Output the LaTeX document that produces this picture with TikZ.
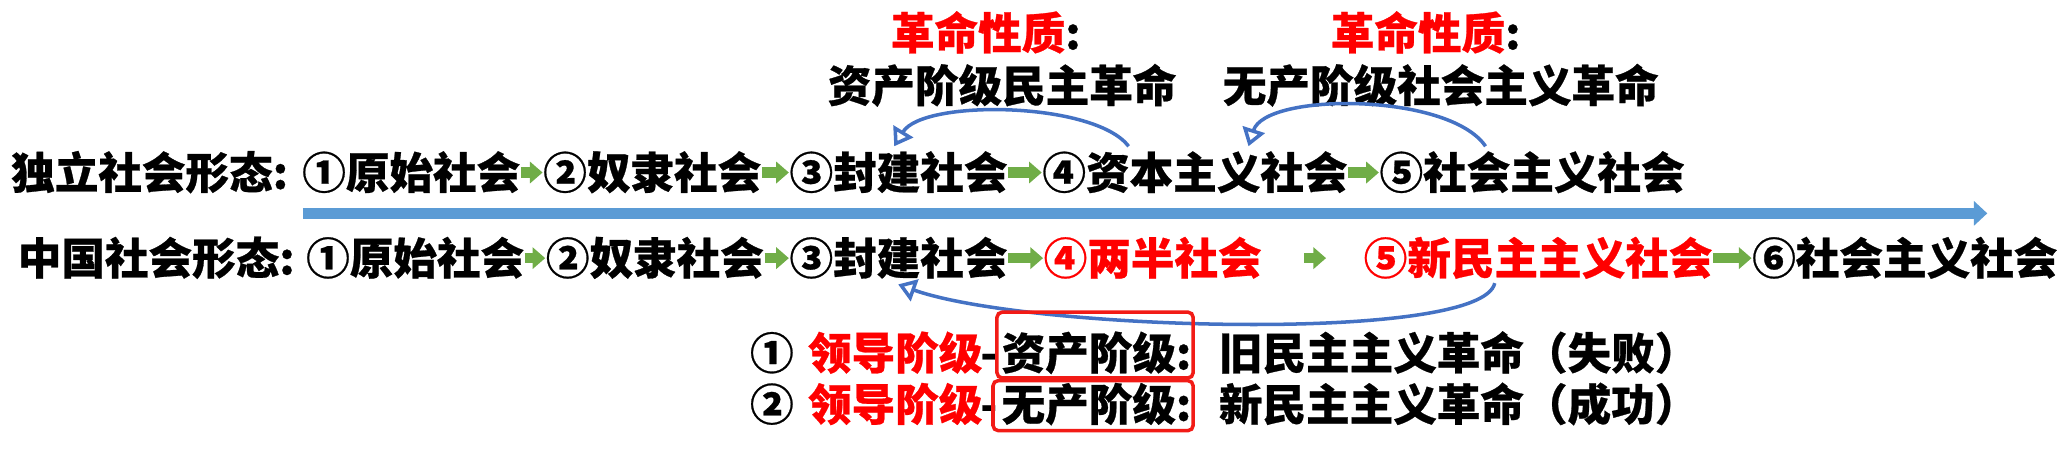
\documentclass[tikz,border=0pt]{standalone}
\usepackage{fontspec}
\setmainfont{Noto Sans CJK SC}[BoldFeatures={FakeBold=0.6}]
\usepackage{tikz}
\usepackage{xcolor}
\usetikzlibrary{positioning, arrows.meta, calc}
\definecolor{arrowgreen}{HTML}{70AD47}
\definecolor{lineblue}{HTML}{5B9BD5}
\definecolor{curveblue}{HTML}{4472C4}
\definecolor{boxred}{HTML}{F21B16}
\tikzset{
    txt/.style={anchor=west, inner sep=0pt, text height=10.8pt, text depth=1.5pt, font=\bfseries\fontsize{12.4pt}{14pt}\selectfont},
    redtxt/.style={txt, text=red},
    garrow/.style={-{Triangle[length=3.6pt, width=6pt]}, line width=3pt, draw=arrowgreen},
    revarrow/.style={draw=curveblue, line width=1pt, -{Triangle[open, length=5pt, width=6.5pt]}},
    classbox/.style={draw=boxred, line width=1pt, rounded corners=1.5pt}
}

\begin{document}
\begin{tikzpicture}[
    x=0.01317cm, y=-0.01317cm,
    timeline/.style={-{Triangle[length=3.8pt, width=6.8pt]}, line width=3pt, draw=lineblue}
]
\useasboundingbox (0,0) rectangle (1568,351);

% --- Revolution labels (top) ---
\node[txt] (t1) at (676,25) {\textcolor{red}{革命性质}:};
\node[txt] (s1) at (628,65) {资产阶级民主革命};
\node[txt] (t2) at (1010,25) {\textcolor{red}{革命性质}:};
\node[txt] (s2) at (928,65) {无产阶级社会主义革命};

% --- Row 1: independent forms ---
\node[txt] (lab1) at (8,131) {独立社会形态:};
\node[txt] (i1) at (229,131) {①原始社会};
\node[txt] (i2) at (412,131) {②奴隶社会};
\node[txt] (i3) at (599,131) {③封建社会};
\node[txt] (i4) at (791,131) {④资本主义社会};
\node[txt] (i5) at (1047,131) {⑤社会主义社会};

% --- Timeline ---
\coordinate (tl0) at (230,162);
\coordinate (tl1) at (1509,162);
\draw[timeline] (tl0) -- (tl1);

% --- Row 2: China ---
\node[txt] (lab2) at (13,196) {中国社会形态:};
\node[txt] (j1) at (232,196) {①原始社会};
\node[txt] (j2) at (414,196) {②奴隶社会};
\node[txt] (j3) at (599,196) {③封建社会};
\node[redtxt] (j4) at (792,196) {④两半社会};
\node[redtxt] (j5) at (1035,196) {⑤新民主主义社会};
\node[txt] (j6) at (1330,196) {⑥社会主义社会};

% --- Green step arrows ---
\draw[garrow] (i1) -- (i2);
\draw[garrow] (i2) -- (i3);
\draw[garrow] (i3) -- (i4);
\draw[garrow] (i4) -- (i5);
\draw[garrow] (j1) -- (j2);
\draw[garrow] (j2) -- (j3);
\draw[garrow] (j3) -- (j4);
\draw[garrow, shorten <=0.42cm, shorten >=0.37cm] (j4) -- (j5);
\draw[garrow] (j5) -- (j6);

% --- Curved arrows back to feudal society ---
\draw[revarrow] ($(i4.north west)+(66,-3)$) .. controls ($(i4.north west)+(40,-37)$) and ($(i3.north west)+(102,-39)$) .. ($(i3.north west)+(80,-3)$);
\draw[revarrow] ($(i5.north west)+(81,-3)$) .. controls ($(i5.north west)+(53,-44)$) and ($(i4.north west)+(170,-44)$) .. ($(i4.north west)+(157,-3)$);
\draw[revarrow] ($(j5.south west)+(100,2)$) .. controls ($(j5.south west)+(90,48)$) and ($(j3.south west)+(181,38)$) .. ($(j3.south west)+(83,3)$);

% --- Leading classes ---
\node[txt] (c1) at (569,268) {①};
\node[redtxt] (lead1) at (613,268) {领导阶级};
\node[txt] (dash1) at (744,268) {-};
\node[txt] (cls1) at (760,268) {资产阶级:};
\node[txt] (res1) at (925,268) {旧民主主义革命（失败）};

\node[txt] (c2) at (569,307) {②};
\node[redtxt] (lead2) at (613,307) {领导阶级};
\node[txt] (dash2) at (744,307) {-};
\node[txt] (cls2) at (760,307) {无产阶级:};
\node[txt] (res2) at (925,307) {新民主主义革命（成功）};

\draw[classbox] ($(cls1.west)+(-3,-31)$) rectangle ($(cls1.west)+(146,19)$);
\draw[classbox] ($(cls2.west)+(-6,-18)$) rectangle ($(cls2.west)+(146,20)$);

\end{tikzpicture}
\end{document}
